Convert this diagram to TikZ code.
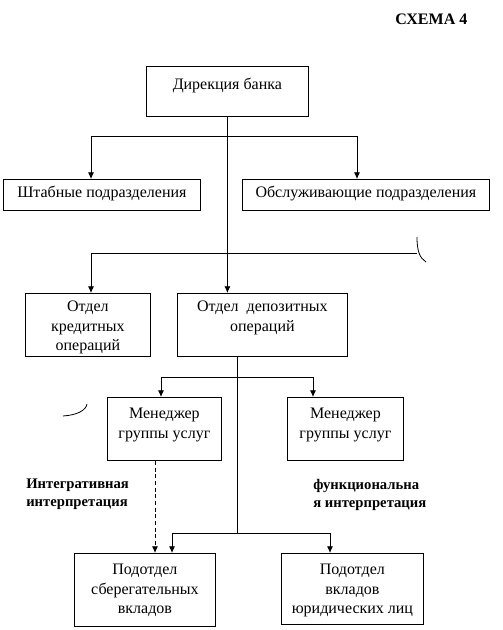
\documentclass[tikz,border=0pt]{standalone}
\usepackage{fontspec}
\setmainfont{Liberation Serif}
\usetikzlibrary{arrows.meta,calc}
\begin{document}
\begin{tikzpicture}[x=0.75pt,y=-0.75pt,
  box/.style={draw, line width=0.6pt, anchor=north west, inner sep=0pt},
  sz/.style 2 args={minimum width=#1*0.75pt, minimum height=#2*0.75pt},
  txt/.style={anchor=north, align=center, font=\fontsize{12}{14.6}\selectfont, inner sep=0pt},
  conn/.style={line width=0.6pt},
  arr/.style={conn, -{Latex[length=5pt,width=4.5pt]}},
  note/.style={font=\bfseries\fontsize{11}{13.5}\selectfont, align=left, anchor=north west, inner sep=0pt}]
\useasboundingbox (0,0) rectangle (502,630);

\node[anchor=base west, inner sep=0pt, font=\bfseries\fontsize{12}{14}\selectfont] (title) at (395,25) {СХЕМА 4};

% boxes
\node[box, sz={162}{50}] (dir) at (146,66) {};
\node[box, sz={197}{31}] (shtab) at (3,179) {};
\node[box, sz={247}{31}] (obsl) at (242,179) {};
\node[box, sz={125}{63}] (kred) at (25,293) {};
\node[box, sz={170}{63}] (dep) at (177,293) {};
\node[box, sz={114}{63}] (men1) at (107,397) {};
\node[box, sz={116}{63}] (men2) at (287,397) {};
\node[box, sz={141}{73}] (sber) at (74,553) {};
\node[box, sz={142}{71}] (yur) at (281,553) {};

% texts
\node[txt] (tdir) at ($(dir.north)+(0,12)$) {Дирекция банка};
\node[txt, anchor=center] (tshtab) at ($(shtab.center)+(0,-1)$) {Штабные подразделения};
\node[txt, anchor=center] (tobsl) at ($(obsl.center)+(0,-1)$) {Обслуживающие подразделения};
\node[txt] (tkred) at ($(kred.north)+(0,8)$) {Отдел\\кредитных\\операций};
\node[txt] (tdep) at ($(dep.north)+(0,8)$) {Отдел\ \ депозитных\\операций};
\node[txt] (tmen1) at ($(men1.north)+(0,11)$) {Менеджер\\группы услуг};
\node[txt] (tmen2) at ($(men2.north)+(0,11)$) {Менеджер\\группы услуг};
\node[txt] (tsber) at ($(sber.north)+(0,11)$) {Подотдел\\сберегательных\\вкладов};
\node[txt] (tyur) at ($(yur.north)+(0,11)$) {Подотдел\\вкладов\\юридических лиц};

\node[note] (n1) at (26,479) {Интегративная\\интерпретация};
\node[note] (n2) at (313,479) {функциональна\\я интерпретация};

% connectors
\coordinate (h1l) at (91,136);
\coordinate (h1r) at (357,136);
\coordinate (h2l) at (91,253);
\coordinate (h2r) at (417,253);
\draw[arr] (dir.south) -- (dir.south |- dep.north);
\draw[conn] (h1l) -- (h1r);
\draw[arr] (h1l) -- (h1l |- shtab.north);
\draw[arr] (h1r) -- (h1r |- obsl.north);
\draw[conn] (h2l) -- (h2r);
\draw[arr] (h2l) -- (h2l |- kred.north);
\draw[conn] (h2r) ++(0,-16) .. controls +(0,15) and +(-6,-4) .. ++(9,25);

\coordinate (d1) at (237,356);
\coordinate (h3l) at (161,377);
\coordinate (h3r) at (313,377);
\coordinate (h4l) at (172,533);
\coordinate (h4r) at (330,533);
\draw[conn] (d1) -- (d1 |- h4l);
\draw[conn] (h3l) -- (h3r);
\draw[arr] (h3l) -- (h3l |- men1.north);
\draw[arr] (h3r) -- (h3r |- men2.north);
\draw[conn] (h4l) -- (h4r);
\draw[arr] (h4l) -- (h4l |- sber.north);
\draw[arr] (h4r) -- (h4r |- yur.north);
\draw[arr, dashed, dash pattern=on 3pt off 2pt] (155,461) coordinate (ds) -- (ds |- sber.north);

\draw[conn] (63,416) .. controls (78,415) and (86,410) .. (87,404);
\end{tikzpicture}
\end{document}
